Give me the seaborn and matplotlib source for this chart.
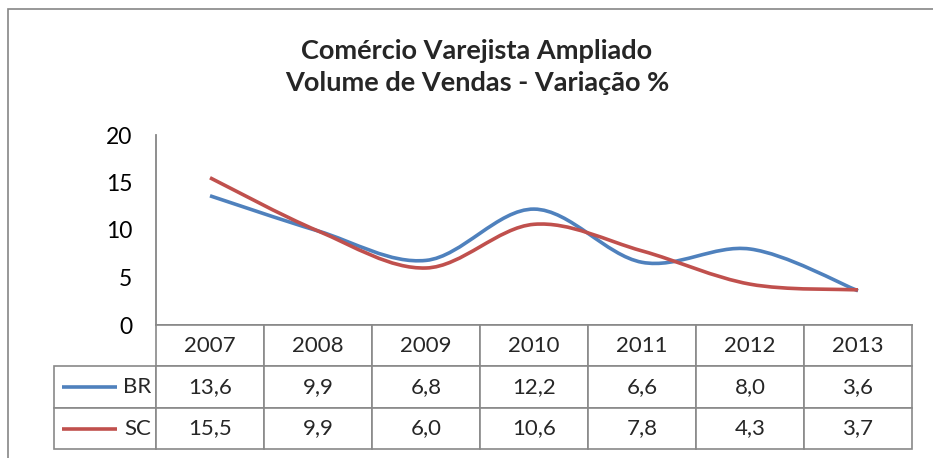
import numpy as np
import pandas as pd
import seaborn as sns
import matplotlib.pyplot as plt
from matplotlib.path import Path
from matplotlib.patches import PathPatch, Rectangle

# Data
years = ["2007", "2008", "2009", "2010", "2011", "2012", "2013"]
br = [13.6, 9.9, 6.8, 12.2, 6.6, 8.0, 3.6]
sc = [15.5, 9.9, 6.0, 10.6, 7.8, 4.3, 3.7]
series_names = ["BR", "SC"]
colors = {"BR": "#4F81BD", "SC": "#C0504D"}

df = pd.DataFrame({
    "x": list(range(len(years))) * 2,
    "valor": br + sc,
    "serie": ["BR"] * len(br) + ["SC"] * len(sc),
})

sns.set_theme(style="white")
plt.rcParams["font.family"] = ["Lato", "DejaVu Sans"]

W, H = 933, 458
fig = plt.figure(figsize=(W / 100, H / 100), dpi=100)

# outer chart border (Excel chart area)
fig.patches.append(Rectangle((8 / W, -0.1), 1.2, 1 - 9 / H + 0.1, transform=fig.transFigure,
                             fill=False, edgecolor="#868686", linewidth=1.2))

ax = fig.add_axes([156 / W, (H - 325) / H, (912 - 156) / W, (325 - 135) / H])
sns.lineplot(data=df, x="x", y="valor", hue="serie", palette=colors, legend=False, ax=ax)


def smooth_path(xs, ys):
    # Excel style smoothed line: cubic bezier through every point
    pts = np.column_stack([xs, ys])
    n = len(pts)
    verts = [pts[0]]
    codes = [Path.MOVETO]
    for i in range(n - 1):
        p0 = pts[i - 1] if i > 0 else pts[i]
        p1, p2 = pts[i], pts[i + 1]
        p3 = pts[i + 2] if i + 2 < n else pts[i + 1]
        c1 = p1 + (p2 - p0) / 6
        c2 = p2 - (p3 - p1) / 6
        verts += [c1, c2, p2]
        codes += [Path.CURVE4] * 3
    return Path(verts, codes)


for line in list(ax.lines):
    xs, ys = line.get_xdata(), line.get_ydata()
    ax.add_patch(PathPatch(smooth_path(xs, ys), fill=False, edgecolor=line.get_color(),
                           linewidth=2.6, capstyle="butt"))
    line.set_visible(False)

ax.set_xlim(-0.5, len(years) - 0.5)
ax.set_ylim(0, 20)
ax.set_yticks([0, 5, 10, 15, 20])
ax.set_xticks([])
ax.set_xlabel("")
ax.set_ylabel("")
ax.tick_params(axis="y", labelsize=16.5, pad=17, length=0, colors="black")
for s in ["top", "right"]:
    ax.spines[s].set_visible(False)
for s in ["left", "bottom"]:
    ax.spines[s].set_color("#868686")
    ax.spines[s].set_linewidth(1.3)

# data table under the chart
tab_ax = fig.add_axes([54 / W, (H - 449) / H, (912 - 54) / W, (449 - 325) / H])
tab_ax.axis("off")
cells = [[""] + years,
         [""] + [f"{v:.1f}".replace(".", ",") for v in br],
         [""] + [f"{v:.1f}".replace(".", ",") for v in sc]]
total = 912 - 54
col_w = [102 / total] + [108 / total] * len(years)
tab = tab_ax.table(cellText=cells, colWidths=col_w, bbox=[0, 0, 1, 1], cellLoc="center")
tab.auto_set_font_size(False)
for (r, c), cell in tab.get_celld().items():
    cell.set_edgecolor("#898989")
    cell.set_linewidth(1.2)
    cell.get_text().set_fontsize(16)
    if r == 0 and c == 0:
        cell.visible_edges = ""

# legend keys in the first column
rows_y = [0.5, 0.165]
for name, yy in zip(series_names, rows_y):
    tab_ax.plot([8 / total, 63 / total], [yy, yy], color=colors[name], linewidth=2.6,
                transform=tab_ax.transAxes, solid_capstyle="butt")
    tab_ax.text(97 / total, yy, name, ha="right", va="center", fontsize=16,
                transform=tab_ax.transAxes)

fig.text(477 / W, 1 - 67 / H, "Comércio Varejista Ampliado\nVolume de Vendas - Variação %",
         ha="center", va="center", fontsize=19.5, fontweight="bold", linespacing=1.4)

fig.savefig("out.png", dpi=100)
